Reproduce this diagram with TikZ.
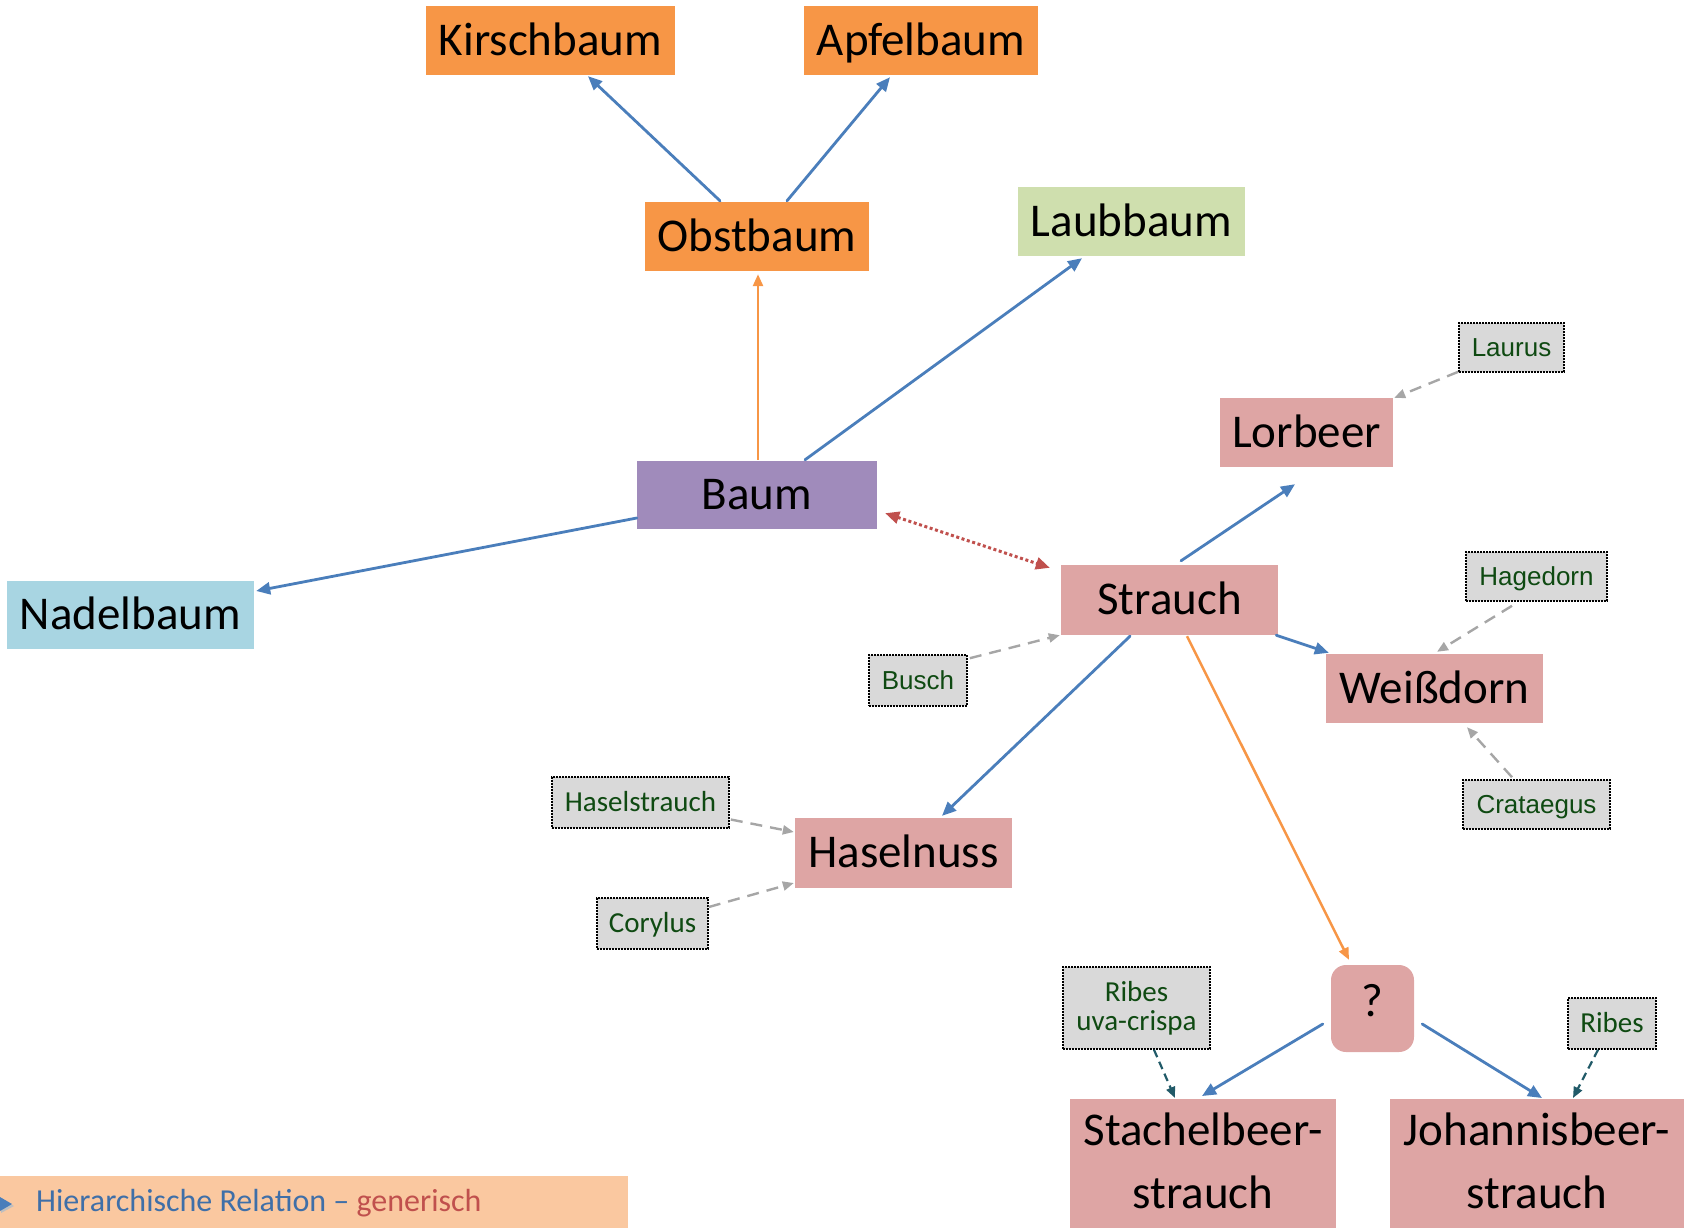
\documentclass[tikz,border=0pt]{standalone}
\usepackage{fontspec}
\setmainfont{Carlito}
\newfontfamily\arialfont{Liberation Sans}
\usetikzlibrary{arrows.meta,calc}

\definecolor{boxorange}{HTML}{F79646}
\definecolor{boxgreen}{HTML}{CFDFAE}
\definecolor{boxpurple}{HTML}{A08BBB}
\definecolor{boxblue}{HTML}{A8D5E2}
\definecolor{boxpink}{HTML}{DEA5A4}
\definecolor{labgray}{HTML}{D9D9D9}
\definecolor{labgreen}{HTML}{0F4A12}
\definecolor{relblue}{HTML}{4A7EBB}
\definecolor{relorange}{HTML}{F79646}
\definecolor{relred}{HTML}{C0504D}
\definecolor{relgray}{HTML}{A6A6A6}
\definecolor{relteal}{HTML}{215A68}
\definecolor{legbar}{HTML}{FAC8A0}
\definecolor{legblue}{HTML}{3F6FA8}

\tikzset{
  concept/.style={draw=none, inner sep=0pt, text=black,
    font=\fontsize{47}{56}\selectfont, text height=35pt, text depth=5.5pt},
  orangebox/.style={concept, fill=boxorange},
  greenbox/.style={concept, fill=boxgreen},
  purplebox/.style={concept, fill=boxpurple},
  bluebox/.style={concept, fill=boxblue},
  pinkbox/.style={concept, fill=boxpink},
  synbase/.style={draw=black, line width=1.6pt, dash pattern=on 1.6pt off 1.4pt,
    fill=labgray, text=labgreen, inner sep=0pt},
  synarial/.style={synbase, font=\arialfont\fontsize{26}{30}\selectfont,
    text height=21pt, text depth=2.4pt},
  syncal/.style={synbase, font=\fontsize{29}{29}\selectfont,
    text height=22pt, text depth=3.7pt},
  hier/.style={draw=relblue, line width=2.8pt, line cap=round,
    -{Triangle[length=14pt,width=12pt]}},
  gen/.style={draw=relorange, line width=2.5pt,
    -{Triangle[length=12pt,width=10pt]}},
  assoc/.style={draw=relred, line width=3pt, dash pattern=on 3pt off 2.6pt,
    {Triangle[length=14pt,width=12pt]}-{Triangle[length=14pt,width=12pt]}},
  useref/.style={draw=relgray, line width=2.4pt, dash pattern=on 12pt off 8pt,
    -{Triangle[length=11pt,width=9pt]}},
  sciref/.style={draw=relteal, line width=2.2pt, dash pattern=on 8pt off 5pt,
    -{Triangle[length=11pt,width=9pt]}},
}

\begin{document}
\begin{tikzpicture}[x=1pt, y=-1pt]
  \useasboundingbox (0,0) rectangle (1688,1227);
  \clip (0,0) rectangle (1688,1227);

  % concept boxes
  \node[orangebox, minimum width=249pt, minimum height=69pt] (kirsch) at (550.5,40.5) {Kirschbaum};
  \node[orangebox, minimum width=234pt, minimum height=69pt] (apfel) at (921,40.5) {Apfelbaum};
  \node[orangebox, minimum width=224pt, minimum height=69pt] (obst) at (757,236.5) {Obstbaum};
  \node[greenbox, minimum width=227pt, minimum height=69pt] (laub) at (1131.5,221.5) {Laubbaum};
  \node[purplebox, minimum width=240pt, minimum height=68pt] (baum) at (757,495) {Baum};
  \node[bluebox, minimum width=247pt, minimum height=68pt] (nadel) at (130.5,615) {Nadelbaum};
  \node[pinkbox, minimum width=217pt, minimum height=70pt] (strauch) at (1169.5,600) {Strauch};
  \node[pinkbox, minimum width=173pt, minimum height=69pt] (lorbeer) at (1306.5,432.5) {Lorbeer};
  \node[pinkbox, minimum width=217pt, minimum height=69pt] (weiss) at (1434.5,688.5) {Weißdorn};
  \node[pinkbox, minimum width=217pt, minimum height=70pt] (haselnuss) at (903.5,853) {Haselnuss};
  \node[pinkbox, rounded corners=15pt, text depth=19.5pt,
        minimum width=83pt, minimum height=87pt] (frage) at (1372.5,1008.5) {?};

  % two-line boxes at the bottom edge
  \node[pinkbox, minimum width=266pt, minimum height=150pt, anchor=north] (stachel) at (1203,1099) {};
  \node[concept, anchor=base] (stacheltop) at (1203,1145) {Stachelbeer-};
  \node[concept, anchor=base] (stachelbot) at (1203,1208) {strauch};
  \node[pinkbox, minimum width=294pt, minimum height=150pt, anchor=north] (johannis) at (1537,1099) {};
  \node[concept, anchor=base] (johannistop) at (1537,1145) {Johannisbeer-};
  \node[concept, anchor=base] (johannisbot) at (1537,1208) {strauch};

  % synonym and scientific name labels
  \node[synarial, minimum width=105pt, minimum height=49pt] (laurus) at (1511.5,347.5) {Laurus};
  \node[synarial, minimum width=141pt, minimum height=49pt] (hagedorn) at (1536.5,576.5) {Hagedorn};
  \node[synarial, minimum width=147pt, minimum height=49pt] (crataegus) at (1536.5,804.5) {Crataegus};
  \node[synarial, minimum width=98pt, minimum height=51pt] (busch) at (918,680.5) {Busch};
  \node[syncal, minimum width=177pt, minimum height=51pt] (haselstrauch) at (640.5,802.5) {Haselstrauch};
  \node[syncal, minimum width=111pt, minimum height=51pt] (corylus) at (652.5,923.5) {Corylus};
  \node[synbase, font=\fontsize{29}{29}\selectfont, align=center,
        minimum width=147pt, minimum height=82pt] (ribesuva) at (1136.5,1008) {Ribes\\uva-crispa};
  \node[syncal, minimum width=88pt, minimum height=51pt] (ribes) at (1612,1023.5) {Ribes};

  % hierarchical relations
  \draw[hier] ($(obst.north)+(-37,-1)$) -- ($(kirsch.south)+(37.5,1)$);
  \draw[hier] ($(obst.north)+(30,-1)$) -- ($(apfel.south)+(-31,2)$);
  \draw[gen]  ($(baum.north)+(1,-1)$) -- ($(obst.south)+(1,3)$);
  \draw[hier] ($(baum.north)+(48,-1)$) -- ($(laub.south)+(-49.5,2)$);
  \draw[hier] ($(baum.west)+(0,23)$) -- ($(nadel.east)+(2,-24)$);
  \draw[hier] ($(strauch.north)+(11.5,-4)$) -- ($(lorbeer.south)+(-11.5,17)$);
  \draw[hier] ($(strauch.south east)+(-2,0)$) -- ($(weiss.north west)+(3,-1)$);
  \draw[hier] ($(strauch.south)+(-39.5,1)$) -- ($(haselnuss.north)+(38.5,-2)$);
  \draw[gen]  ($(strauch.south)+(17.5,1)$) -- ($(frage.north)+(-23.5,-5)$);
  \draw[hier] ($(frage.west)+(-8,15.5)$) -- ($(stachel.north)+(-1,-3)$);
  \draw[hier] ($(frage.east)+(8,15.5)$) -- ($(johannis.north)+(5,-1)$);

  % associative relation
  \draw[assoc] ($(baum.south east)+(8,-16)$) -- ($(strauch.north west)+(-11,3)$);

  % synonym links
  \draw[useref] ($(laurus.south west)+(0,-1)$) -- ($(lorbeer.north east)+(1,0)$);
  \draw[useref] ($(hagedorn.south)+(-24.5,4)$) -- ($(weiss.north)+(2.5,-2)$);
  \draw[useref] ($(crataegus.north)+(-24.5,-2)$) -- ($(weiss.south)+(32.5,4)$);
  \draw[useref] ($(busch.north east)+(2,4)$) -- ($(strauch.south west)+(-1,0)$);
  \draw[useref] ($(haselstrauch.east)+(1,17)$) -- ($(haselnuss.west)+(-1,-21)$);
  \draw[useref] ($(corylus.east)+(0,-16.5)$) -- ($(haselnuss.west)+(-1,30)$);
  \draw[sciref] ($(ribesuva.south)+(17.5,0)$) -- ($(stachel.north)+(-28,-1)$);
  \draw[sciref] ($(ribes.south)+(-14,0)$) -- ($(johannis.north)+(36,-1)$);

  % legend bar
  \node[fill=legbar, inner sep=0pt, minimum width=628pt, minimum height=60pt, anchor=north west] (legendbar) at (0,1176) {};
  \fill[black!25] (1,1199) -- (14,1206) -- (1,1213) -- cycle;
  \fill[relblue] (0,1197) -- (12,1204) -- (0,1211) -- cycle;
  \node[anchor=base west, inner sep=0pt, font=\fontsize{32}{38}\selectfont] (legendtext) at (36,1211)
    {\textcolor{legblue}{Hierarchische Relation –} \textcolor{relred}{generisch}};
\end{tikzpicture}
\end{document}
